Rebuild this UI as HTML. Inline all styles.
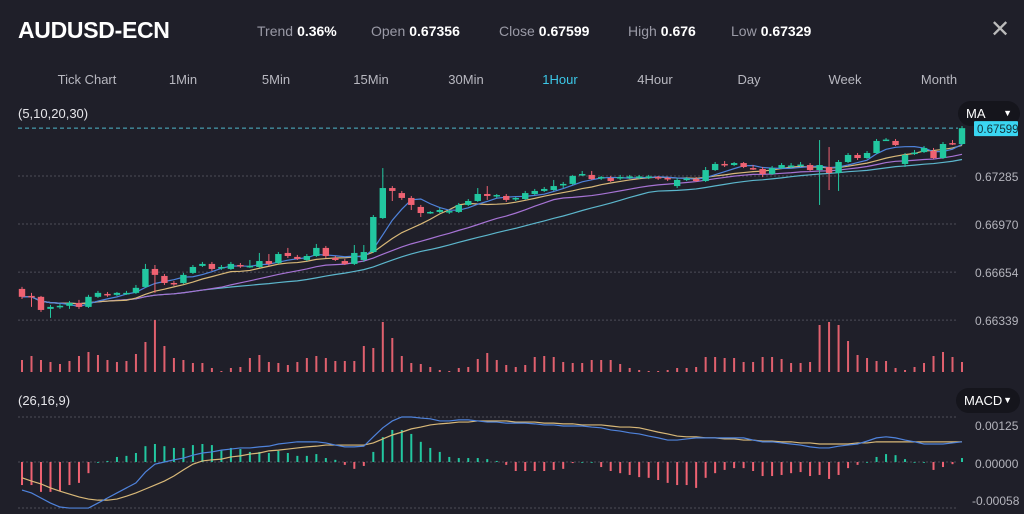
<!DOCTYPE html>
<html><head><meta charset="utf-8">
<style>
html,body{margin:0;padding:0;background:#1f1f29;width:1024px;height:514px;overflow:hidden;font-family:"Liberation Sans",sans-serif;color:#fff}
.hdr{position:absolute;left:0;top:0;width:1024px;height:100px}
.title{position:absolute;left:18px;top:17px;font-size:23px;font-weight:bold;letter-spacing:-0.3px}
.stat{position:absolute;top:23px;font-size:14px;color:#9a9aa6}
.stat b{color:#fff;font-weight:bold;margin-left:4px}
.close{position:absolute;left:990px;top:15px;font-size:24px;color:#bbb}
.tab{position:absolute;top:72px;font-size:13px;color:#b8b8c0;transform:translateX(-50%)}
.tab.on{color:#3cc8e8}
.pill{position:absolute;background:#15151c;border-radius:13px;font-size:13px;color:#fff;padding:0 8px;line-height:25px}
</style></head><body>
<div class="hdr">
<div class="title">AUDUSD-ECN</div>
<div class="stat" style="left:257px">Trend<b>0.36%</b></div>
<div class="stat" style="left:371px">Open<b>0.67356</b></div>
<div class="stat" style="left:499px">Close<b>0.67599</b></div>
<div class="stat" style="left:628px">High<b>0.676</b></div>
<div class="stat" style="left:731px">Low<b>0.67329</b></div>
<div class="close">✕</div>
<div class="tab" style="left:87px">Tick Chart</div>
<div class="tab" style="left:183px">1Min</div>
<div class="tab" style="left:276px">5Min</div>
<div class="tab" style="left:371px">15Min</div>
<div class="tab" style="left:466px">30Min</div>
<div class="tab on" style="left:560px">1Hour</div>
<div class="tab" style="left:655px">4Hour</div>
<div class="tab" style="left:749px">Day</div>
<div class="tab" style="left:845px">Week</div>
<div class="tab" style="left:939px">Month</div>
</div>
<div class="pill" style="left:958px;top:101px;width:46px">MA <span style="float:right;font-size:9px">▼</span></div>
<div class="pill" style="left:956px;top:388px;width:48px">MACD <span style="float:right;font-size:9px">▼</span></div>
<svg id="chart" width="1024" height="514" style="position:absolute;left:0;top:0"></svg>
<script>
const opens=[0.66544,0.66498,0.66492,0.66413,0.66426,0.66433,0.66452,0.66426,0.66492,0.66511,0.66505,0.66511,0.66518,0.66557,0.66675,0.66629,0.66583,0.66583,0.66649,0.66695,0.66708,0.66682,0.66675,0.66701,0.66688,0.66688,0.66727,0.66714,0.66780,0.66754,0.66734,0.66760,0.66813,0.66747,0.66727,0.66708,0.66734,0.66786,0.67009,0.67206,0.67173,0.67141,0.67082,0.67042,0.67049,0.67049,0.67049,0.67095,0.67121,0.67167,0.67154,0.67154,0.67134,0.67134,0.67167,0.67187,0.67193,0.67226,0.67233,0.67292,0.67292,0.67272,0.67272,0.67272,0.67278,0.67278,0.67278,0.67278,0.67272,0.67219,0.67265,0.67265,0.67252,0.67324,0.67364,0.67357,0.67370,0.67337,0.67331,0.67298,0.67337,0.67351,0.67357,0.67357,0.67324,0.67344,0.67305,0.67377,0.67423,0.67403,0.67436,0.67521,0.67515,0.67364,0.67436,0.67442,0.67449,0.67403,0.67501,0.67495];
const closes=[0.66492,0.66492,0.66406,0.66426,0.66433,0.66452,0.66426,0.66492,0.66518,0.66505,0.66518,0.66518,0.66551,0.66675,0.66636,0.66583,0.66577,0.66636,0.66688,0.66708,0.66675,0.66688,0.66708,0.66695,0.66695,0.66727,0.66708,0.66773,0.66760,0.66741,0.66760,0.66813,0.66760,0.66734,0.66708,0.66780,0.66786,0.67016,0.67206,0.67187,0.67141,0.67095,0.67042,0.67049,0.67062,0.67055,0.67095,0.67121,0.67167,0.67154,0.67160,0.67128,0.67141,0.67173,0.67187,0.67200,0.67219,0.67233,0.67285,0.67298,0.67265,0.67278,0.67252,0.67278,0.67282,0.67282,0.67282,0.67272,0.67265,0.67259,0.67268,0.67252,0.67324,0.67364,0.67357,0.67370,0.67344,0.67334,0.67298,0.67337,0.67357,0.67354,0.67360,0.67324,0.67357,0.67305,0.67377,0.67423,0.67403,0.67436,0.67515,0.67524,0.67488,0.67423,0.67439,0.67469,0.67403,0.67495,0.67498,0.67599];
const highs=[0.66557,0.66518,0.66498,0.66439,0.66446,0.66465,0.66472,0.66505,0.66531,0.66524,0.66524,0.66531,0.66570,0.66708,0.66701,0.66642,0.66596,0.66649,0.66701,0.66721,0.66721,0.66701,0.66721,0.66714,0.66734,0.66780,0.66773,0.66786,0.66813,0.66767,0.66773,0.66839,0.66826,0.66760,0.66741,0.66832,0.66832,0.67029,0.67337,0.67219,0.67187,0.67154,0.67095,0.67055,0.67075,0.67062,0.67108,0.67134,0.67206,0.67219,0.67167,0.67167,0.67147,0.67187,0.67200,0.67213,0.67259,0.67246,0.67292,0.67318,0.67318,0.67285,0.67285,0.67292,0.67292,0.67292,0.67292,0.67285,0.67278,0.67272,0.67278,0.67278,0.67344,0.67377,0.67383,0.67377,0.67377,0.67357,0.67344,0.67351,0.67370,0.67370,0.67377,0.67370,0.67521,0.67475,0.67390,0.67436,0.67436,0.67449,0.67528,0.67534,0.67528,0.67436,0.67456,0.67482,0.67469,0.67508,0.67521,0.67613];
const lows=[0.66478,0.66426,0.66393,0.66354,0.66413,0.66413,0.66413,0.66419,0.66485,0.66492,0.66498,0.66505,0.66511,0.66551,0.66518,0.66570,0.66564,0.66577,0.66642,0.66688,0.66662,0.66669,0.66669,0.66682,0.66682,0.66682,0.66695,0.66708,0.66747,0.66734,0.66727,0.66754,0.66747,0.66727,0.66701,0.66701,0.66721,0.66780,0.67003,0.67121,0.67128,0.67062,0.67016,0.67036,0.67042,0.67036,0.67042,0.67088,0.67115,0.67128,0.67141,0.67115,0.67121,0.67128,0.67160,0.67180,0.67187,0.67206,0.67226,0.67285,0.67259,0.67259,0.67246,0.67259,0.67265,0.67265,0.67265,0.67259,0.67252,0.67206,0.67252,0.67246,0.67246,0.67318,0.67344,0.67351,0.67337,0.67324,0.67278,0.67292,0.67331,0.67337,0.67344,0.67318,0.67095,0.67193,0.67187,0.67370,0.67390,0.67397,0.67429,0.67515,0.67482,0.67344,0.67423,0.67436,0.67397,0.67397,0.67488,0.67488];
const volumes=[12,16,12,10,8,11,16,20,17,12,10,11,18,30,52,26,14,12,9,9,4,1,4,5,14,17,10,9,7,10,14,16,14,11,11,11,26,24,50,34,16,9,8,5,2,1,4,5,13,19,12,7,5,7,15,16,15,10,9,9,12,12,12,8,4,2,1,1,2,4,4,5,15,15,14,14,10,10,15,15,13,9,9,10,47,50,47,31,17,14,11,11,4,2,5,9,16,20,15,10];
// MACD values in units of 1e-5
const dif=[-78,-86,-100,-114,-125,-128,-128,-128,-114,-100,-86,-72,-58,-28,-6,0,6,11,19,25,28,33,36,39,39,42,44,50,53,56,56,56,53,47,42,42,44,70,95,114,125,125,122,120,114,114,117,117,114,111,111,108,108,108,106,103,103,100,100,100,97,95,89,86,81,78,72,67,61,61,64,67,67,67,67,67,67,61,56,56,53,50,47,42,39,39,44,47,50,58,67,70,67,61,56,50,50,50,53,56];
const dea=[-44,-53,-61,-72,-81,-89,-97,-103,-106,-106,-103,-95,-86,-75,-64,-53,-39,-22,-6,3,6,8,14,17,22,25,31,33,36,39,42,44,47,47,47,47,47,53,64,75,83,92,97,103,106,108,111,111,114,114,114,114,111,111,111,108,108,106,106,103,103,103,100,97,97,95,89,83,78,72,70,70,67,67,64,64,61,61,58,58,56,56,53,53,50,50,50,50,53,53,56,56,56,56,56,56,56,56,56,56];
const hist=[-64,-64,-83,-83,-81,-64,-58,-31,0,3,14,17,25,44,50,44,39,39,47,50,47,33,39,36,28,28,25,31,25,17,17,22,11,6,-8,-19,-11,28,69,89,89,78,56,39,28,14,11,11,11,8,3,-8,-25,-25,-25,-25,-22,-19,-3,0,0,-14,-25,-31,-36,-42,-44,-50,-58,-64,-64,-72,-44,-31,-22,-17,-17,-25,-39,-39,-36,-31,-28,-39,-36,-47,-36,-17,-8,0,14,22,19,8,0,0,-22,-14,-6,11];
const priceTicks=["0.67285","0.66970","0.66654","0.66339"];
const priceTickVals=[0.67285,0.66970,0.66654,0.66339];
const macdTicks=["0.00125","0.00000","-0.00058"];

const NS="http://www.w3.org/2000/svg";
const svg=document.getElementById('chart');
function mk(tag,attrs,parent){const e=document.createElementNS(NS,tag);for(const k in attrs)e.setAttribute(k,attrs[k]);(parent||svg).appendChild(e);return e;}
const GREEN="#22c7a0",RED="#ef6272",GRID="#4c4c58";
const n=closes.length;
const X=i=>22+i*(940/(n-1));
const Y=p=>176+(0.67285-p)/0.00315*48;
const VY=v=>372-v*1.0;
const MY=v=>462-v*0.36;

priceTickVals.forEach((v,k)=>{
  const g=mk('line',{x1:18,x2:958,y1:Y(v),y2:Y(v),stroke:GRID,'stroke-dasharray':'2,2','stroke-width':1});
  
  
  const t=mk('text',{x:975,y:Y(v)+5,fill:'#b4b4bc','font-size':12,'font-family':'Liberation Sans'});
  t.textContent=priceTicks[k];
  
  
});
const last=closes[n-1];
const dl=mk('line',{x1:18,x2:958,y1:Y(last),y2:Y(last),stroke:'#4fb8cc','stroke-dasharray':'4,3','stroke-width':1});


const lb=mk('rect',{x:974,y:Y(last)-7,width:44,height:15,fill:'#3ad6f2',rx:1});


const lt=mk('text',{x:977,y:Y(last)+5,fill:'#14323a','font-size':11.5,'font-family':'Liberation Sans'});
lt.textContent=last.toFixed(5);


const mal=mk('text',{x:18,y:118,fill:'#e6e6ea','font-size':13,'font-family':'Liberation Sans'});
mal.textContent="(5,10,20,30)";


const mcl=mk('text',{x:18,y:405,fill:'#e6e6ea','font-size':13,'font-family':'Liberation Sans'});
mcl.textContent="(26,16,9)";



function ma(p){return closes.map((_,i)=>{const s=Math.max(0,i-p+1);let t=0;for(let j=s;j<=i;j++)t+=closes[j];return t/(i-s+1);});}
[[30,'#5cb6cc'],[20,'#a673d4'],[10,'#d8b878'],[5,'#4f83dc']].forEach(([p,c])=>{
  const m=ma(p);
  const l=mk('polyline',{points:m.map((v,i)=>X(i)+','+Y(v)).join(' '),fill:'none',stroke:c,'stroke-width':1.2});
  
  
});
for(let i=0;i<n;i++){
  const up=closes[i]>=opens[i];const c=up?GREEN:RED;const x=X(i);
  const w=mk('line',{x1:x,x2:x,y1:Y(highs[i]),y2:Y(lows[i]),stroke:c,'stroke-width':1});
  
  
  const t=Math.min(Y(opens[i]),Y(closes[i]));const h=Math.max(1.5,Math.abs(Y(opens[i])-Y(closes[i])));
  const b=mk('rect',{x:x-3.2,y:t,width:6.4,height:h,fill:c});
  
  
  const v=mk('rect',{x:x-1,y:VY(volumes[i]),width:2,height:372-VY(volumes[i]),fill:'#e0606e'});
  
  
}
[[417,0],[462,1],[508,2]].forEach(([gy,k])=>{
  const g=mk('line',{x1:18,x2:958,y1:gy,y2:gy,stroke:GRID,'stroke-dasharray':'2,2','stroke-width':1});
  
  
  const t=mk('text',{x:k==2?972:975,y:[430,468,505][k],fill:'#b4b4bc','font-size':12,'font-family':'Liberation Sans'});
  t.textContent=macdTicks[k];
  
  
});
for(let i=0;i<n;i++){
  const v=hist[i];const y0=MY(0),y1=MY(v);
  const r=mk('rect',{x:X(i)-1,y:Math.min(y0,y1),width:2,height:Math.max(0.8,Math.abs(y1-y0)),fill:v>=0?GREEN:RED});
  
  
}
[[dea,'#d8b878'],[dif,'#4f83dc']].forEach(([arr,c],k)=>{
  const l=mk('polyline',{points:arr.map((v,i)=>X(i)+','+MY(v)).join(' '),fill:'none',stroke:c,'stroke-width':1.2});
  
  
});
</script>
</body></html>
